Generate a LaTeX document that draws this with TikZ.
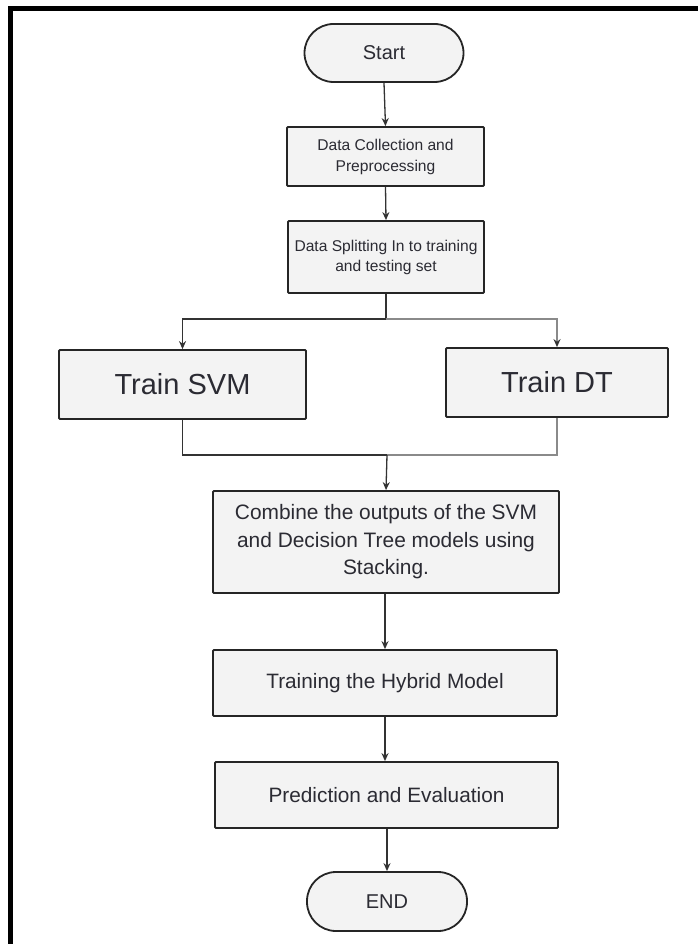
\documentclass[tikz,border=0pt]{standalone}
\usepackage{fontspec}
\setmainfont{Liberation Sans}
\usetikzlibrary{arrows.meta}
\definecolor{boxfill}{HTML}{F3F3F3}
\definecolor{boxline}{HTML}{252525}
\definecolor{txt}{HTML}{2B2B33}
\definecolor{lnk}{HTML}{333333}
\definecolor{lnkgray}{HTML}{8A8A8A}
\tikzset{
  procbox/.style={draw=boxline, line width=1.8pt, fill=boxfill, text=txt, inner sep=0pt, align=center, rounded corners=1pt},
  pill/.style={draw=boxline, line width=1.8pt, fill=boxfill, text=txt, inner sep=0pt, align=center, rounded corners=29pt},
  link/.style={draw=lnk, line width=1.3pt},
  linkarrow/.style={link, -{Stealth[length=8pt,width=7pt]}},
  graylink/.style={draw=lnkgray, line width=1.3pt},
  grayarrow/.style={graylink, -{Stealth[length=8pt,width=7pt,color=lnk]}}
}
\begin{document}
\begin{tikzpicture}[x=1pt,y=-1pt]
\useasboundingbox (0,0) rectangle (697,944);
\fill[white] (0,0) rectangle (697,944);
% outer frame (only top and left edges inside the page)
\draw[line width=5pt, black] (10.5,960) -- (10.5,8.5) -- (720,8.5);

\node[pill, minimum width=159pt, minimum height=58pt, font=\fontsize{20}{24}\selectfont] (start) at (384,53) {Start};
\node[procbox, minimum width=197pt, minimum height=59pt, font=\fontsize{15.6}{21}\selectfont] (collect) at (385.5,156.5) {Data Collection and\\Preprocessing};
\node[procbox, minimum width=196pt, minimum height=72pt, font=\fontsize{15.6}{20}\selectfont] (split) at (386,257) {Data Splitting In to training\\and testing set};
\node[procbox, minimum width=247pt, minimum height=69pt, font=\fontsize{29}{32}\selectfont] (svm) at (182.5,384.5) {Train SVM};
\node[procbox, minimum width=222pt, minimum height=69pt, font=\fontsize{29}{32}\selectfont] (dt) at (557,382.5) {Train DT};
\node[procbox, minimum width=346pt, minimum height=102pt, font=\fontsize{20.9}{27.5}\selectfont] (combine) at (386,542) {Combine the outputs of the SVM\\and Decision Tree models using\\Stacking.};
\node[procbox, minimum width=344pt, minimum height=66pt, font=\fontsize{20.8}{24}\selectfont] (train) at (385,683) {Training the Hybrid Model};
\node[procbox, minimum width=343pt, minimum height=66pt, font=\fontsize{20.8}{24}\selectfont] (pred) at (386.5,795) {Prediction and Evaluation};
\node[pill, minimum width=160pt, minimum height=59pt, font=\fontsize{20}{24}\selectfont] (end) at (387,901.5) {END};

\coordinate (splitj) at (386,319);
\coordinate (mergej) at (387,455);

\draw[linkarrow] (start.south) -- (collect.north);
\draw[linkarrow] (collect.south) -- (split.north);
\draw[link] (split.south) -- (splitj);
\draw[linkarrow] (splitj) -| (svm.north);
\draw[grayarrow] (splitj) -| (dt.north);
\draw[link] (svm.south) |- (mergej);
\draw[graylink] (dt.south) |- (mergej);
\draw[linkarrow] (mergej) -- (combine.north);
\draw[linkarrow] (combine.south -| train.north) -- (train.north);
\draw[linkarrow] (train.south) -- (train.south |- pred.north);
\draw[linkarrow] (pred.south -| end.north) -- (end.north);
\end{tikzpicture}
\end{document}
